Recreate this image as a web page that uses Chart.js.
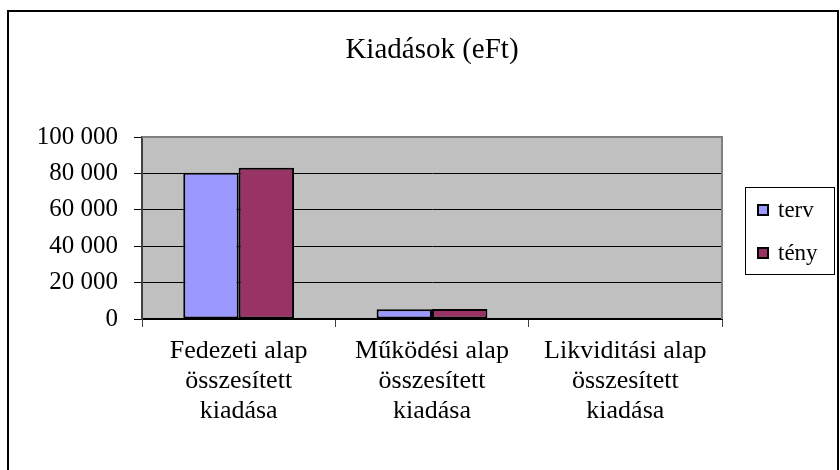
<!DOCTYPE html>
<html>
<head>
<meta charset="utf-8">
<script src="https://cdn.jsdelivr.net/npm/chart.js@4/dist/chart.umd.min.js"></script>
<style>
  html, body { margin: 0; padding: 0; background: #ffffff; }
  #wrap { width: 840px; height: 470px; position: relative; }
</style>
</head>
<body>
<div id="wrap"><canvas id="c" width="840" height="470"></canvas></div>
<script>
// ---- data ----
const chartTitle = "Kiadások (eFt)";
const categories = [
  ["Fedezeti alap", "összesített", "kiadása"],
  ["Működési alap", "összesített", "kiadása"],
  ["Likviditási alap", "összesített", "kiadása"]
];
const seriesNames = ["terv", "tény"];
const tervValues = [80300, 5400, 0];
const tenyValues = [83100, 5500, 0];
const yMin = 0;
const yMax = 100000;
const yStep = 20000;

const SERIF = "'Liberation Serif', 'Times New Roman', serif";

function fmt(v) {
  return String(v).replace(/\B(?=(\d{3})+(?!\d))/g, " ");
}

const decorPlugin = {
  id: 'decor',
  beforeDraw(chart) {
    const { ctx, chartArea: a } = chart;
    ctx.save();
    ctx.fillStyle = '#c0c0c0';
    ctx.fillRect(a.left, a.top, a.right - a.left, a.bottom - a.top);
    ctx.restore();
  },
  afterDatasetsDraw(chart) {
    const { ctx, chartArea: a } = chart;
    ctx.save();
    ctx.strokeStyle = '#808080';
    ctx.lineWidth = 2;
    ctx.beginPath();
    ctx.moveTo(a.left, a.top);
    ctx.lineTo(a.right, a.top);
    ctx.lineTo(a.right, a.bottom);
    ctx.stroke();
    ctx.restore();
  },
  afterDraw(chart) {
    const { ctx, chartArea: a } = chart;
    ctx.save();
    // outer frame
    ctx.strokeStyle = '#000';
    ctx.lineWidth = 2;
    ctx.beginPath();
    ctx.moveTo(8, 480);
    ctx.lineTo(8, 11);
    ctx.lineTo(838, 11);
    ctx.lineTo(838, 480);
    ctx.stroke();
    // legend
    const lx = a.right + 23, ly = 187, lw = 89, lh = 87;
    ctx.lineWidth = 1;
    ctx.strokeStyle = '#000';
    ctx.strokeRect(lx + 0.5, ly + 0.5, lw, lh);
    ctx.font = "23px " + SERIF;
    ctx.textBaseline = 'middle';
    ctx.textAlign = 'left';
    const rows = [ly + 23, ly + 66];
    chart.data.datasets.forEach((ds, i) => {
      const y = rows[i];
      ctx.fillStyle = ds.backgroundColor;
      ctx.fillRect(lx + 13, y - 5, 10, 10);
      ctx.lineWidth = 2;
      ctx.strokeStyle = '#000';
      ctx.strokeRect(lx + 13, y - 5, 10, 10);
      ctx.fillStyle = '#000';
      ctx.fillText(ds.label, lx + 33, y + 1);
    });
    ctx.restore();
  }
};

new Chart(document.getElementById('c'), {
  type: 'bar',
  data: {
    labels: categories,
    datasets: [
      { label: seriesNames[0], data: tervValues, backgroundColor: '#9999ff', borderColor: '#000', borderWidth: 2, borderSkipped: false },
      { label: seriesNames[1], data: tenyValues, backgroundColor: '#993366', borderColor: '#000', borderWidth: 2, borderSkipped: false }
    ]
  },
  options: {
    responsive: false,
    animation: false,
    devicePixelRatio: 1,
    layout: { padding: { left: 0, top: 0, right: 118, bottom: 0 } },
    datasets: { bar: { categoryPercentage: 0.573, barPercentage: 1.0 } },
    plugins: {
      legend: { display: false },
      tooltip: { enabled: false },
      title: {
        display: true,
        text: chartTitle,
        fullSize: false,
        color: '#000',
        font: { family: SERIF, size: 29, weight: 'normal', lineHeight: 1.2 },
        padding: { top: 33, bottom: 69.2 }
      }
    },
    scales: {
      x: {
        afterFit: s => { s.height = 151; },
        grid: { display: true, drawOnChartArea: false, drawTicks: true, tickLength: 8, color: '#404040', lineWidth: 1, offset: true },
        border: { display: true, color: '#000', width: 2 },
        ticks: {
          color: '#000',
          maxRotation: 0, minRotation: 0, autoSkip: false,
          padding: 9,
          font: { family: SERIF, size: 26, lineHeight: '30px' }
        }
      },
      y: {
        min: yMin, max: yMax,
        afterFit: s => { s.width = 142; },
        grid: { color: '#000', lineWidth: 1, drawTicks: true, tickLength: 8 },
        border: { display: true, color: '#404040', width: 2 },
        ticks: {
          stepSize: yStep,
          color: '#000',
          padding: 16,
          font: { family: SERIF, size: 25 },
          callback: v => fmt(v)
        }
      }
    }
  },
  plugins: [decorPlugin]
});
</script>
</body>
</html>
